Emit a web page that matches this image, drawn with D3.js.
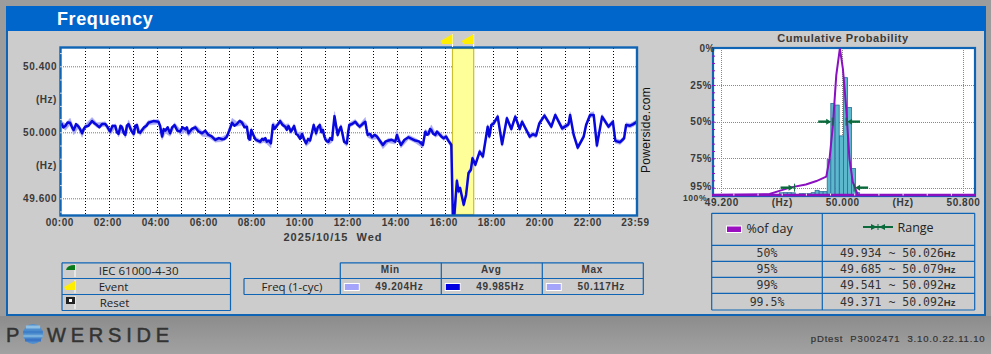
<!DOCTYPE html>
<html><head><meta charset="utf-8">
<script src="https://cdn.jsdelivr.net/npm/d3@7"></script>
<style>
html,body{margin:0;padding:0;background:#9a9a9a;overflow:hidden}
svg{display:block}
text{font-family:"Liberation Sans",Arial,sans-serif}
.tick text{font:bold 10px "Liberation Sans",Arial,sans-serif;letter-spacing:.55px;fill:#3a3a3a}
.ui{font-family:"Open Sans",sans-serif;font-size:11.5px;fill:#222}
.mono{font-family:"DejaVu Sans Mono",monospace;font-size:11.5px;fill:#333}
.lab{font:bold 10px "Liberation Sans",Arial,sans-serif;letter-spacing:.65px;fill:#3a3a3a}
</style></head><body><svg id="c" width="991" height="354"></svg>
<script>
const minutes=[0,10,22,31,42,52,60,77,89,110,
122,135,143,152,160,168,181,189,197,218,
243,252,260,272,283,297,310,318,335,352,
368,385,402,414,427,439,452,464,468,475,
485,497,506,514,524,529,537,547,560,568,
574,582,591,602,612,622,631,637,646,654,
660,668,677,683,691,699,707,714,720,735,
746,760,766,777,789,804,818,835,839,849,
868,885,904,910,918,925,935,943,956,962,
968,975,979,982,989,993,997,1006,1012,1018,
1024,1028,1035,1046,1054,1062,1066,1070,1075,1081,
1091,1102,1114,1125,1135,1146,1152,1171,1179,1187,
1195,1208,1225,1235,1252,1268,1272,1281,1291,1306,
1312,1322,1331,1339,1352,1368,1379,1385,1397,1407,
1412,1422,1429,1439];
const freqMin=[50.040,50.012,50.044,49.985,50.024,49.970,50.020,50.054,50.030,50.036,
49.985,50.024,49.972,50.016,49.965,50.036,49.972,50.030,49.980,50.044,
50.050,49.955,49.996,49.976,50.030,49.985,50.004,49.976,50.016,49.976,
49.970,49.940,49.944,49.960,50.040,50.036,50.044,50.020,49.945,49.996,
49.944,49.929,49.940,49.929,49.905,50.030,50.020,50.054,50.016,50.024,
49.990,50.020,49.970,49.976,49.915,49.936,50.030,49.976,50.030,50.000,
49.944,49.925,49.940,50.075,49.970,50.020,49.929,49.915,50.030,50.050,
50.020,50.050,49.970,49.956,49.960,49.900,49.936,49.929,49.970,49.905,
49.956,49.936,49.905,49.990,49.976,50.000,49.970,49.980,49.950,49.960,
49.934,49.905,49.204,49.204,49.690,49.628,49.648,49.547,49.608,49.739,
49.759,49.829,49.789,49.869,49.839,49.955,50.020,49.960,50.030,50.040,
50.081,49.914,50.071,50.006,50.081,50.006,50.050,49.960,49.974,49.966,
50.040,50.087,50.020,50.091,50.010,50.034,50.091,49.970,49.893,49.960,
50.030,50.091,50.091,49.906,50.081,50.020,50.050,49.934,49.926,49.950,
50.030,50.026,50.034,50.050];
const freqMax=[50.068,50.052,50.085,50.028,50.052,50.008,50.048,50.090,50.058,50.064,
50.018,50.052,50.004,50.044,49.998,50.075,50.004,50.058,50.012,50.072,
50.078,49.988,50.024,50.008,50.058,50.018,50.032,50.008,50.044,50.008,
49.998,49.968,49.972,49.988,50.085,50.064,50.072,50.048,49.978,50.028,
49.972,49.957,49.968,49.957,49.947,50.060,50.048,50.082,50.048,50.052,
50.018,50.052,49.998,50.004,49.947,49.964,50.058,50.008,50.058,50.028,
49.972,49.957,49.968,50.125,49.998,50.048,49.957,49.947,50.058,50.078,
50.048,50.090,49.998,49.984,49.988,49.937,49.964,49.957,50.015,49.937,
49.984,49.964,49.937,50.018,50.004,50.045,49.998,50.008,49.978,49.988,
49.962,49.938,49.520,49.520,49.720,49.656,49.676,49.575,49.636,49.767,
49.787,49.857,49.817,49.897,49.867,49.988,50.048,49.988,50.058,50.068,
50.109,49.942,50.099,50.034,50.109,50.034,50.078,49.988,50.002,49.994,
50.068,50.115,50.048,50.119,50.038,50.062,50.125,49.998,49.921,49.988,
50.058,50.119,50.125,49.934,50.109,50.048,50.078,49.962,49.954,49.978,
50.058,50.054,50.062,50.078];
const avgMinutes=[0,5,10,16,22,27,31,37,42,47,52,56,60,68,77,83,89,95,102,110,116,122,128,135,139,143,148,152,156,160,164,168,175,181,185,189,193,197,207,213,218,230,243,247,252,256,260,266,272,277,283,290,297,303,310,314,318,326,335,343,352,360,368,376,385,394,402,408,414,420,427,433,439,446,452,458,464,468,472,475,480,485,491,497,502,506,510,514,519,524,529,533,537,542,547,553,560,564,568,574,578,582,587,591,597,602,607,612,617,622,627,631,634,637,641,646,650,654,657,660,664,668,672,677,680,683,687,691,695,699,703,707,714,717,720,727,735,741,746,753,760,763,766,772,777,783,789,796,804,811,818,826,835,839,844,849,858,868,876,885,894,904,910,914,918,922,925,930,935,939,943,950,956,962,968,975,979,982,989,993,997,1006,1012,1018,1024,1028,1035,1046,1054,1062,1066,1070,1075,1081,1091,1102,1114,1125,1135,1146,1152,1171,1179,1187,1195,1208,1225,1235,1252,1268,1272,1281,1291,1306,1312,1322,1331,1339,1352,1368,1379,1385,1397,1407,1412,1422,1429,1439];
const freqAvg=[50.054,50.030,50.038,50.060,50.058,50.030,50.014,50.050,50.038,50.020,49.994,50.020,50.034,50.040,50.068,50.055,50.044,50.030,50.050,50.050,50.030,50.004,50.040,50.038,50.000,49.990,50.040,50.030,49.995,49.984,50.040,50.050,50.010,49.990,50.040,50.044,50.000,49.998,50.030,50.040,50.058,50.068,50.064,50.040,49.974,50.020,50.010,50.030,49.994,50.030,50.044,50.010,50.004,50.030,50.018,50.030,49.994,50.020,50.030,50.005,49.994,50.010,49.984,49.975,49.954,49.965,49.958,49.960,49.974,50.010,50.058,50.040,50.050,50.070,50.058,50.030,50.034,49.964,49.955,50.014,49.985,49.958,49.950,49.943,49.960,49.954,49.965,49.943,49.950,49.933,50.044,50.020,50.034,50.050,50.068,50.045,50.034,50.015,50.038,50.004,50.020,50.038,49.990,49.984,49.960,49.990,49.955,49.933,49.960,49.950,50.000,50.044,50.020,49.994,50.030,50.044,50.000,50.014,49.980,49.958,49.945,49.943,49.965,49.954,50.030,50.098,50.040,49.984,50.015,50.034,49.990,49.943,49.933,50.000,50.044,50.050,50.064,50.045,50.034,50.050,50.064,50.020,49.984,49.990,49.970,49.985,49.974,49.950,49.923,49.945,49.950,49.955,49.943,49.984,49.950,49.923,49.955,49.970,49.960,49.950,49.945,49.923,50.004,49.985,49.990,50.020,50.014,49.990,49.984,50.005,49.994,49.975,49.964,49.974,49.948,49.924,49.480,49.480,49.706,49.642,49.662,49.561,49.622,49.753,49.773,49.843,49.803,49.883,49.853,49.974,50.034,49.974,50.044,50.054,50.095,49.928,50.085,50.020,50.095,50.020,50.064,49.974,49.988,49.980,50.054,50.101,50.034,50.105,50.024,50.048,50.105,49.984,49.907,49.974,50.044,50.105,50.105,49.920,50.095,50.034,50.064,49.948,49.940,49.964,50.044,50.040,50.048,50.064];
const eventMinutes=[978,1031];
const hourTicks=[0,120,240,360,480,600,720,840,960,1080,1200,1320,1439];
const hourGrid=[60,120,180,240,300,360,420,480,540,600,660,720,780,840,900,960,1020,1080,1140,1200,1260,1320,1380];
const freqTicks=[50.4,50.2,50.0,49.8,49.6];
const freqTickLabels=["50.400","(Hz)","50.000","(Hz)","49.600"];
const freqGrid=[50.4,50.0,49.6];
const freqMinor=[50.48,50.4,50.32,50.24,50.16,50.08,50.0,49.92,49.84,49.76,49.68,49.6,49.52];

const binLeft=[49.584,49.610,49.637,49.663,49.716,49.742,49.769,49.795,49.821,49.848,49.874,49.901,49.925,49.954,49.983,50.009,50.035,50.062,50.088];
const binHeight=[1.5,1.6,1.6,1.5,0.9,0.9,0.9,1.6,3.2,2.3,2.3,24.1,62.4,61.3,40.3,80,59.7,18,1.6];
const binWidth=0.0264;
const curveHz=[49.139,49.40,49.52,49.59,49.66,49.76,49.83,49.895,49.917,49.939,49.961,49.985,50.005,50.027,50.048,50.07,50.103,50.88];
const curvePct=[100,99.7,99.3,97,94.8,92.8,90.5,87.5,75,52,18.5,0,14,41,75,91,99.8,100];
const pctTicks=[0,25,50,75,95,100];
const pctMinor=[5,10,15,20,25,30,35,40,45,50,55,60,65,70,75,80,85,90,95];
const cumHzTicks=[49.2,49.6,50.0,50.4,50.8];
const cumHzLabels=["49.200","(Hz)","50.000","(Hz)","50.800"];
const cumHzGrid=[49.2,50.0,50.8];
const cumHzMinor=[49.28,49.44,49.6,49.76,49.92,50.08,50.24,50.4,50.56,50.72];
const rangePct=[50,95];
const rangeLow=[49.934,49.685];
const rangeHigh=[50.026,50.079];
const tablePct=["50%","95%","99%","99.5%"];
const tableLow=["49.934","49.685","49.541","49.371"];
const tableHigh=["50.026","50.079","50.092","50.092"];
const statNames=["Min","Avg","Max"];
const statValues=["49.204Hz","49.985Hz","50.117Hz"];
const legendNames=["IEC 61000-4-30","Event","Reset"];

const BLUE="#0f64b4",PURPLE="#8a10c0",GREEN="#0a6a3c";
const svg=d3.select("#c");
const R=(x,y,w,h,f,s,sw)=>svg.append("rect").attr("x",x).attr("y",y).attr("width",w).attr("height",h).attr("fill",f||"none").attr("stroke",s||"none").attr("stroke-width",sw||1);
const T=(x,y,t,c,a)=>svg.append("text").attr("x",x).attr("y",y).attr("dy",".35em").attr("text-anchor",a||"middle").attr("class",c||"ui").text(t);

/* page */
const defs=svg.append("defs");
const g=defs.append("linearGradient").attr("id","foot").attr("x1",0).attr("x2",0).attr("y1",0).attr("y2",1);
g.append("stop").attr("offset",0).attr("stop-color","#8c8c8c");g.append("stop").attr("offset",1).attr("stop-color","#a2a2a2");
R(0,0,991,354,"#9c9c9c");
R(0,316,991,38,"url(#foot)");
R(7,7,978,308,"#cccccc",BLUE,2);
R(6,6,980,25,"#0066cc");
svg.append("text").attr("x",57).attr("y",24.5).attr("fill","#fff").attr("font-weight","bold").attr("font-size",18).attr("letter-spacing",.6).text("Frequency");

/* main plot */
const x=d3.scaleLinear().domain([0,1440]).range([61.3,637.3]);
const y=d3.scaleLinear().domain([50,49.6]).range([132.3,198.3]);
R(60.5,47.5,576.5,168,"#fff");
const cp=defs.append("clipPath").attr("id","pc");
cp.append("rect").attr("x",60.5).attr("y",47.5).attr("width",576.5).attr("height",168);
const gHoriz=svg.append("g");
freqGrid.forEach(v=>gHoriz.append("line").attr("x1",61).attr("x2",637).attr("y1",y(v)+.5).attr("y2",y(v)+.5).attr("stroke","#777").attr("stroke-dasharray","1 1"));
hourGrid.forEach(m=>svg.append("line").attr("x1",Math.round(x(m))+.5).attr("x2",Math.round(x(m))+.5).attr("y1",48).attr("y2",215).attr("stroke","#000").attr("stroke-dasharray","1 2"));
R(x(eventMinutes[0]),48.5,x(eventMinutes[1])-x(eventMinutes[0]),166,"#ffff99","#c8c030",1.2);
const pl=svg.append("g").attr("clip-path","url(#pc)");
const idx=d3.range(minutes.length);
pl.append("path").datum(idx).attr("fill","#a8a8f4").attr("stroke","#a8a8f4").attr("stroke-width",.5)
 .attr("d",d3.area().x(i=>x(minutes[i])).y0(i=>y(freqMin[i])).y1(i=>y(freqMax[i])));
pl.append("path").datum(d3.range(avgMinutes.length)).attr("fill","none").attr("stroke","#0808dc").attr("stroke-width",2.5).attr("stroke-linejoin","round")
 .attr("d",d3.line().x(i=>x(avgMinutes[i])).y(i=>y(freqAvg[i])));
R(60.5,47.5,576.5,168,"none",BLUE,2.4);
const yAxis=d3.axisLeft(y).tickValues(freqTicks).tickSize(0).tickPadding(0).tickFormat((d,i)=>freqTickLabels[i]);
svg.append("g").attr("transform","translate(57,0)").call(yAxis).call(a=>a.select(".domain").remove());
svg.append("g").attr("transform","translate(60,0)").call(d3.axisRight(y).tickValues(freqMinor).tickSize(2).tickFormat("")).call(a=>{a.select(".domain").remove();a.selectAll("line").attr("stroke","#cfe0f2")});
const xAxis=d3.axisBottom(x).tickValues(hourTicks).tickSize(0).tickPadding(0).tickFormat(m=>m==1439?"23:59":d3.format("02")(m/60)+":00");
svg.append("g").attr("transform","translate(-2,219)").call(xAxis).call(a=>a.select(".domain").remove());
svg.append("text").attr("x",333).attr("y",241).attr("text-anchor","middle").attr("font-weight","bold").attr("font-size",11).attr("letter-spacing",1).attr("fill","#3a3a3a").attr("xml:space","preserve").text("2025/10/15  Wed");
svg.append("text").attr("transform","translate(649.5,130) rotate(-90)").attr("text-anchor","middle").attr("font-size",12).attr("letter-spacing",.3).attr("fill","#111").text("Powerside.com");

/* flags */
const flag=(px,top,col,h)=>{
  svg.append("line").attr("x1",px).attr("x2",px).attr("y1",top).attr("y2",top+h).attr("stroke","#fff");
  svg.append("path").attr("d",`M${px} ${top}L${px-12} ${top+7}L${px-10} ${top+10}H${px}Z`).attr("fill",col);
};
eventMinutes.forEach(m=>flag(x(m),34,"#ffee00",13));

/* cumulative plot */
const cx=d3.scaleLinear().domain([49.2,50.8]).range([721.3,963]);
const cy=d3.scaleLinear().domain([0,100]).range([48.3,195]);
T(843,38,"Cumulative Probability","lab").attr("style","font-size:11px;letter-spacing:.55px");
R(713,48,262,148,"#fff");
const cg=svg.append("g");
pctTicks.slice(1,5).forEach(p=>cg.append("line").attr("x1",713).attr("x2",975).attr("y1",Math.round(cy(p))+.5).attr("y2",Math.round(cy(p))+.5).attr("stroke","#888").attr("stroke-dasharray","1 1"));
cumHzGrid.forEach(v=>cg.append("line").attr("x1",Math.round(cx(v))+.5).attr("x2",Math.round(cx(v))+.5).attr("y1",48).attr("y2",196).attr("stroke","#888").attr("stroke-dasharray","1 1"));
svg.append("g").selectAll("rect").data(binLeft).join("rect")
 .attr("x",d=>cx(d)).attr("width",d=>cx(d+binWidth)-cx(d))
 .attr("y",(d,i)=>cy(100-binHeight[i])).attr("height",(d,i)=>cy(100)-cy(100-binHeight[i]))
 .attr("fill","#5cb8cc").attr("stroke","#2a6c98").attr("stroke-width",.8);
R(713,48,262,148,"none",BLUE,2.2);
svg.append("path").datum(d3.range(curveHz.length)).attr("fill","none").attr("stroke",PURPLE).attr("stroke-width",2)
 .attr("d",d3.line().x(i=>cx(curveHz[i])).y(i=>cy(curvePct[i])));
svg.append("line").attr("x1",712).attr("x2",976).attr("y1",cy(100)).attr("y2",cy(100)).attr("stroke",PURPLE).attr("stroke-width",2.4);
svg.append("g").attr("transform","translate(0,193.5)").call(d3.axisBottom(cx).tickValues(cumHzMinor).tickSize(2).tickFormat("")).call(a=>{a.select(".domain").remove();a.selectAll("line").attr("stroke","#fff")});
svg.append("g").attr("transform","translate(712,0)").call(d3.axisRight(cy).tickValues(pctMinor).tickSize(3).tickFormat("")).call(a=>{a.select(".domain").remove();a.selectAll("line").attr("stroke",PURPLE)});
const arrow=(v,p,dir)=>{
  const X=cx(v),Y=cy(p);
  const s=svg.append("g").attr("stroke",GREEN).attr("fill",GREEN);
  s.append("line").attr("x1",X).attr("x2",X).attr("y1",Y-4).attr("y2",Y+4).attr("stroke-width",1);
  s.append("line").attr("x1",X+dir*4).attr("x2",X+dir*14).attr("y1",Y).attr("y2",Y).attr("stroke-width",2.4);
  s.append("path").attr("stroke","none").attr("d",`M${X+dir} ${Y}L${X+dir*6} ${Y-3}V${Y+3}Z`);
};
rangePct.forEach((p,i)=>{arrow(rangeLow[i],p,-1);arrow(rangeHigh[i],p,1);});
const pAxis=d3.axisLeft(cy).tickValues(pctTicks).tickSize(0).tickPadding(0).tickFormat(d=>d+"%");
svg.append("g").attr("transform","translate(712,0)").call(pAxis).call(a=>{a.select(".domain").remove();
  a.selectAll(".tick").filter(d=>d==0).attr("transform",`translate(3,${cy(0)})`);
  a.selectAll(".tick").filter(d=>d==95).attr("transform",`translate(0,${cy(95)-1})`);
  a.selectAll(".tick").filter(d=>d==100).attr("transform",`translate(-5,${cy(100)+3})`).select("text").style("font-size","8.5px");
});
svg.append("g").attr("transform","translate(0,199)").call(d3.axisBottom(cx).tickValues(cumHzTicks).tickSize(0).tickPadding(0).tickFormat((d,i)=>cumHzLabels[i])).call(a=>a.select(".domain").remove());

/* tables */
const L=(x1,y1,x2,y2)=>svg.append("line").attr("x1",x1).attr("x2",x2).attr("y1",y1).attr("y2",y2).attr("stroke",BLUE).attr("stroke-width",1.2);
const rowsA=[262.8,278.5,294.5,310.5];
rowsA.forEach(v=>L(62,v,230.5,v));L(62,262.8,62,310.5);L(230.5,262.8,230.5,310.5);
[[98.7,271],[98.7,286.5],[99.7,303]].forEach((p,i)=>T(p[0],p[1],legendNames[i],"ui","start"));
const mini=(y0)=>svg.append("line").attr("x1",75).attr("x2",75).attr("y1",y0).attr("y2",y0+13).attr("stroke","#fff");
mini(264);svg.append("path").attr("d","M75 265V270H66Q67 265 75 265Z").attr("fill","#0a7a1a");
mini(280);svg.append("path").attr("d","M75 281L64 287L66 290H75Z").attr("fill","#ffee00");
mini(296);R(66,297,9,7,"#222");R(69,299,3,3,"#fff");

const colsB=[340.3,441.3,542.3,643.3];
[262.8,278.5,294.5].forEach(v=>L(340.3,v,643.3,v));
colsB.forEach(v=>L(v,262.8,v,294.5));
L(244,278.5,340.3,278.5);L(244,294.5,340.3,294.5);L(244,278.5,244,294.5);
T(292,286.5,"Freq (1-cyc)","ui");
const swatch=["#a4a4fa","#0000e0","#a4a4fa"];
statNames.forEach((n,i)=>{
  const a=colsB[i];
  T(a+50,269.5,n,"lab");
  R(a+4,283.5,15,7,swatch[i],"#fff",1);
  T(a+59,286.5,statValues[i],"lab");
});
const rowsC=[213.3,245.3,261.3,277.3,293.3,310];
rowsC.forEach(v=>L(711.7,v,974.7,v));[711.7,822.3,974.7].forEach(v=>L(v,213.3,v,310));
R(726.5,226,15,6.5,"#9a10c0","#fff",1);
T(746.5,229,"%of day","ui","start").style("font-size","12.5px");
T(897.5,228,"Range","ui","start").style("font-size","12.5px");
svg.append("line").attr("x1",863).attr("x2",893).attr("y1",227).attr("y2",227).attr("stroke",GREEN).attr("stroke-width",2);
svg.append("line").attr("x1",878).attr("x2",878).attr("y1",224).attr("y2",230).attr("stroke",GREEN);
svg.append("path").attr("d","M877 227L871 224V230ZM879 227L885 224V230Z").attr("fill",GREEN);
tablePct.forEach((p,i)=>{
  const ym=(rowsC[i+1]+rowsC[i+2])/2;
  T(767,ym,p,"mono");
  const t=T(840,ym,"","mono","start");
  t.append("tspan").text(tableLow[i]+" ~ "+tableHigh[i]);
  t.append("tspan").attr("style","font:bold 9.5px 'Liberation Sans',sans-serif").text("Hz");
});

/* footer */
svg.append("text").attr("x",985.5).attr("y",342).attr("text-anchor","end").attr("font-size",9.5).attr("letter-spacing",.85).attr("fill","#333").attr("stroke","#333").attr("stroke-width",.2).attr("xml:space","preserve").text("pDtest  P3002471  3.10.0.22.11.10");
const logoStyle=s=>s.attr("y",341.5).attr("font-size",20).attr("fill","#333").attr("stroke","#333").attr("stroke-width",.5);
svg.append("text").attr("x",6).text("P").call(logoStyle);
svg.append("text").attr("x",47).attr("letter-spacing",4.8).text("WERSIDE").call(logoStyle);
svg.append("circle").attr("cx",33).attr("cy",334).attr("r",10).attr("fill","#4f8fd0");
[[-7,"#8fc0e4",3],[-2,"#3f7fc8",2.5],[2,"#79b0dc",2.5],[6,"#3a74c4",3]].forEach(d=>{
  const w=Math.sqrt(Math.max(0,100-d[0]*d[0]));
  R(33-w,334+d[0]-d[2]/2,2*w,d[2],d[1]);
});
</script></body></html>
